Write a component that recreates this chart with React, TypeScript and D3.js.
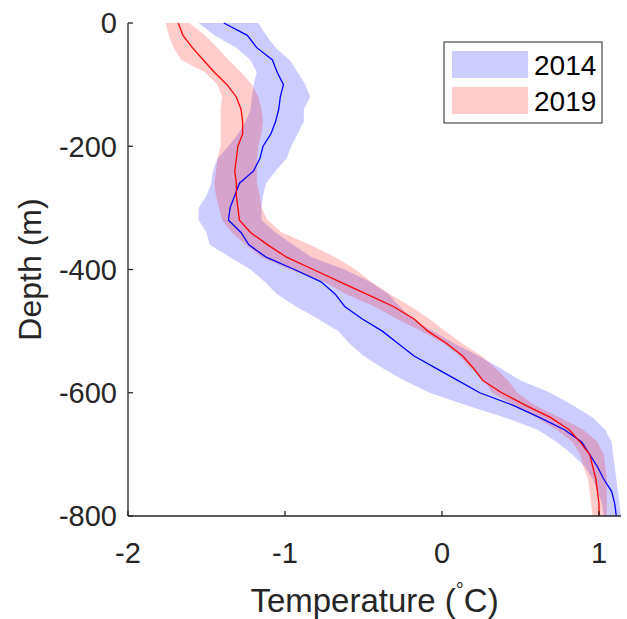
import React from "react";
import * as d3 from "d3";

const depths = [0, -20, -40, -60, -80, -100, -120, -140, -160, -180, -200, -220, -240, -260, -280, -300, -320, -340, -360, -380, -400, -420, -440, -460, -480, -500, -520, -540, -560, -580, -600, -620, -640, -660, -680, -700, -720, -740, -760, -780, -800];

const mean2014 = [-1.39, -1.24, -1.18, -1.08, -1.05, -1.01, -1.03, -1.04, -1.06, -1.09, -1.14, -1.16, -1.2, -1.29, -1.32, -1.35, -1.36, -1.28, -1.23, -1.12, -0.94, -0.77, -0.68, -0.62, -0.51, -0.38, -0.28, -0.18, -0.04, 0.1, 0.24, 0.45, 0.62, 0.78, 0.89, 0.94, 0.99, 1.03, 1.08, 1.1, 1.11];
const lo2014 = [-1.55, -1.45, -1.31, -1.22, -1.18, -1.2, -1.21, -1.22, -1.25, -1.3, -1.36, -1.43, -1.46, -1.47, -1.5, -1.55, -1.55, -1.5, -1.48, -1.35, -1.22, -1.13, -1.05, -0.93, -0.79, -0.66, -0.59, -0.5, -0.38, -0.24, -0.08, 0.15, 0.4, 0.61, 0.73, 0.83, 0.91, 0.96, 0.99, 1.02, 1.03];
const hi2014 = [-1.17, -1.12, -1.06, -0.97, -0.92, -0.87, -0.84, -0.88, -0.88, -0.92, -0.96, -0.99, -1.06, -1.12, -1.14, -1.15, -1.15, -1.06, -0.95, -0.83, -0.62, -0.46, -0.34, -0.27, -0.19, -0.06, 0.08, 0.23, 0.37, 0.5, 0.69, 0.83, 0.96, 1.04, 1.08, 1.09, 1.1, 1.11, 1.12, 1.13, 1.14];

const mean2019 = [-1.68, -1.65, -1.59, -1.52, -1.45, -1.37, -1.31, -1.28, -1.27, -1.27, -1.3, -1.31, -1.32, -1.31, -1.31, -1.3, -1.29, -1.22, -1.11, -0.99, -0.82, -0.65, -0.48, -0.31, -0.18, -0.09, 0.03, 0.13, 0.2, 0.26, 0.38, 0.53, 0.69, 0.81, 0.88, 0.94, 0.96, 0.98, 0.99, 1.0, 1.0];
const lo2019 = [-1.76, -1.74, -1.71, -1.66, -1.51, -1.43, -1.4, -1.41, -1.41, -1.41, -1.41, -1.43, -1.44, -1.45, -1.44, -1.42, -1.4, -1.34, -1.25, -1.15, -0.97, -0.75, -0.61, -0.43, -0.29, -0.13, 0.01, 0.11, 0.18, 0.27, 0.32, 0.46, 0.6, 0.73, 0.83, 0.88, 0.9, 0.93, 0.94, 0.95, 0.96];
const hi2019 = [-1.61, -1.51, -1.43, -1.36, -1.28, -1.21, -1.17, -1.15, -1.14, -1.15, -1.17, -1.18, -1.18, -1.18, -1.16, -1.15, -1.11, -1.02, -0.84, -0.68, -0.55, -0.45, -0.33, -0.2, -0.08, 0.02, 0.13, 0.25, 0.34, 0.42, 0.48, 0.59, 0.75, 0.9, 0.99, 1.03, 1.04, 1.05, 1.05, 1.05, 1.05];

const xTicks = [-2, -1, 0, 1];
const yTicks = [0, -200, -400, -600, -800];
const seriesNames = ["2014", "2019"];

const FONT = "'Liberation Sans', Arial, Helvetica, sans-serif";
const AX = "#262626";

export default function App() {
  const W = 627;
  const H = 619;
  const left = 128, right = 621, top = 23, bottom = 516;
  const x = d3.scaleLinear().domain([-2, 1.14]).range([left, right]);
  const y = d3.scaleLinear().domain([-800, 0]).range([bottom, top]);

  const band = (lo: number[], hi: number[]) =>
    d3
      .area<number>()
      .y((d) => y(d))
      .x0((_, i) => x(lo[i]))
      .x1((_, i) => x(hi[i]))(depths) || "";
  const line = (m: number[]) =>
    d3
      .line<number>()
      .x((_, i) => x(m[i]))
      .y((d) => y(d))(depths) || "";

  const tickLen = 5;

  return (
    <div style={{ position: "absolute", left: 0, top: 0 }}>
      <svg width={W} height={H} style={{ display: "block", background: "#fff" }}>
        <path d={band(lo2014, hi2014)} fill="#0000ff" fillOpacity={0.2} stroke="none" />
        <path d={band(lo2019, hi2019)} fill="#ff0000" fillOpacity={0.2} stroke="none" />
        <path d={line(mean2014)} fill="none" stroke="#0000ff" strokeWidth={1.3} />
        <path d={line(mean2019)} fill="none" stroke="#ff0000" strokeWidth={1.3} />

        {/* axes */}
        <line x1={left} x2={left} y1={top} y2={bottom} stroke={AX} strokeWidth={1.3} />
        <line x1={left} x2={right} y1={bottom} y2={bottom} stroke={AX} strokeWidth={1.3} />
        {yTicks.map((t) => (
          <g key={"y" + t}>
            <line x1={left} x2={left + tickLen} y1={y(t)} y2={y(t)} stroke={AX} strokeWidth={1.3} />
            <text x={left - 11} y={y(t)} dy="0.36em" textAnchor="end" fontFamily={FONT} fontSize={29} fill={AX}>
              {String(t)}
            </text>
          </g>
        ))}
        {xTicks.map((t) => (
          <g key={"x" + t}>
            <line x1={x(t)} x2={x(t)} y1={bottom} y2={bottom - tickLen} stroke={AX} strokeWidth={1.3} />
            <text x={x(t)} y={563} textAnchor="middle" fontFamily={FONT} fontSize={29} fill={AX}>
              {String(t)}
            </text>
          </g>
        ))}

        {/* axis labels */}
        <text
          transform={`translate(41,${(top + bottom) / 2}) rotate(-90)`}
          textAnchor="middle"
          fontFamily={FONT}
          fontSize={32}
          fill={AX}
        >
          Depth (m)
        </text>
        <text x={(left + right) / 2} y={612} textAnchor="middle" fontFamily={FONT} fontSize={33} fill={AX}>
          Temperature (
          <tspan fontSize={20} dy={-15}>
            °
          </tspan>
          <tspan dy={15}>C)</tspan>
        </text>

        {/* legend */}
        <rect x={444} y={42} width={158} height={81} fill="#fff" stroke={AX} strokeWidth={1} />
        <rect x={452} y={51} width={76} height={27} fill="#0000ff" fillOpacity={0.2} />
        <rect x={452} y={87} width={76} height={27} fill="#ff0000" fillOpacity={0.2} />
        <text x={534} y={65} dy="0.36em" fontFamily={FONT} fontSize={28} fill="#000">
          {seriesNames[0]}
        </text>
        <text x={534} y={101} dy="0.36em" fontFamily={FONT} fontSize={28} fill="#000">
          {seriesNames[1]}
        </text>
      </svg>
    </div>
  );
}
